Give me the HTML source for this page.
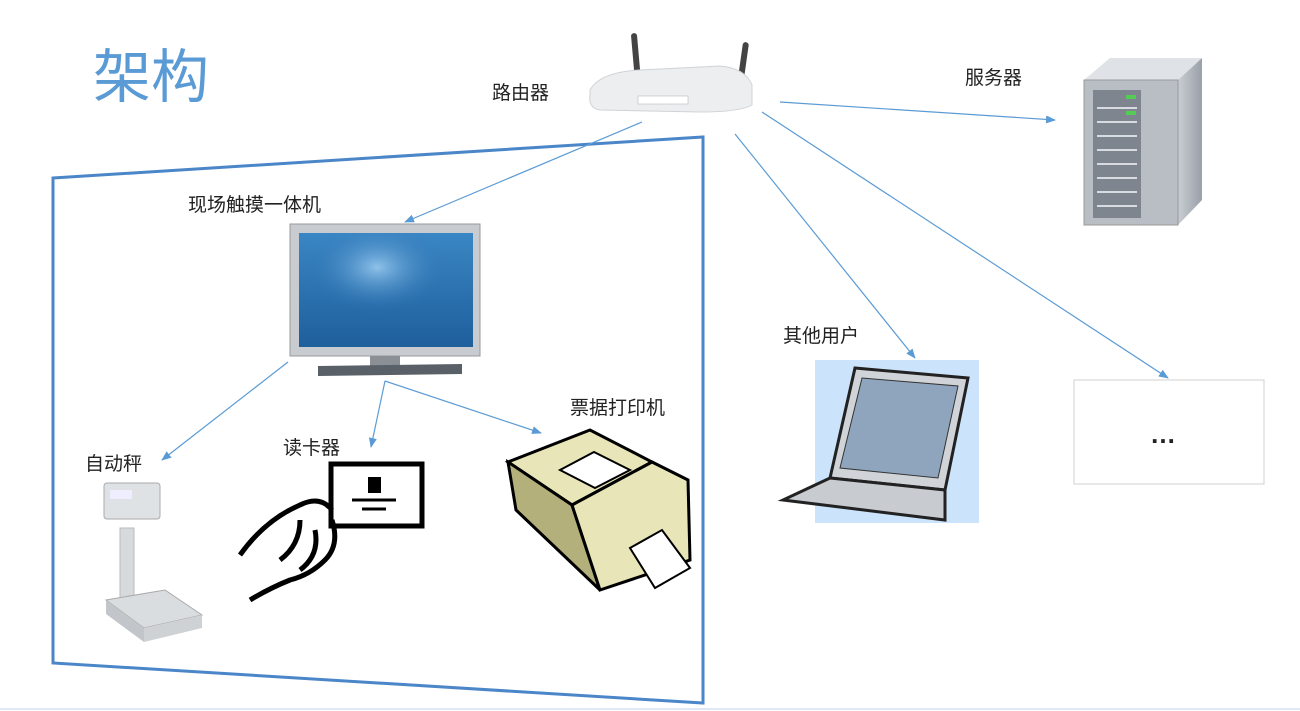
<!DOCTYPE html>
<html><head><meta charset="utf-8"><style>
html,body{margin:0;padding:0;background:#fff;}
svg{display:block;font-family:"Liberation Sans","Noto Sans CJK SC",sans-serif;}
</style></head><body>
<svg width="1300" height="711" viewBox="0 0 1300 711" xmlns="http://www.w3.org/2000/svg">
<defs>
<marker id="a" markerWidth="10" markerHeight="8" refX="9" refY="4" orient="auto" markerUnits="userSpaceOnUse"><path d="M0,0 L10,4 L0,8 Z" fill="#5b9bd5"/></marker>
<linearGradient id="scr" x1="0" y1="0" x2="0" y2="1"><stop offset="0" stop-color="#3a86c4"/><stop offset="1" stop-color="#1e5f9c"/></linearGradient>
<radialGradient id="glow" cx="0.45" cy="0.3" r="0.4"><stop offset="0" stop-color="#8fc2ea"/><stop offset="1" stop-color="#2c74b5" stop-opacity="0"/></radialGradient>
<linearGradient id="srv" x1="0" y1="0" x2="1" y2="0"><stop offset="0" stop-color="#c9cdd3"/><stop offset="1" stop-color="#9aa0a8"/></linearGradient>
</defs>
<text x="93" y="97" font-size="58" fill="#5b9bd5">架构</text>
<!-- frame -->
<polygon points="53,178 703,137 703,703 53,663" fill="none" stroke="#4a86c8" stroke-width="3"/>
<line x1="0" y1="709" x2="1300" y2="709" stroke="#dfe9f5" stroke-width="2"/>
<!-- router -->
<rect x="633" y="33" width="6" height="50" rx="3" fill="#444" transform="rotate(-5 636 58)"/>
<rect x="740" y="42" width="6" height="45" rx="3" fill="#444" transform="rotate(8 743 64)"/>
<path d="M590,90 Q600,72 640,70 L720,66 Q745,68 752,85 L752,105 Q740,112 700,112 L600,110 Q588,108 590,95 Z" fill="#eceeef" stroke="#d0d3d6"/>
<rect x="638" y="96" width="50" height="8" fill="#fff" stroke="#bbb" stroke-width="0.6"/>
<text x="492" y="99" font-size="19" fill="#222">路由器</text>
<!-- server -->
<polygon points="1084,80 1110,58 1202,58 1178,80" fill="#dfe2e6"/>
<polygon points="1178,80 1202,58 1202,200 1178,225" fill="url(#srv)"/>
<rect x="1084" y="80" width="94" height="145" fill="#b9bec5" stroke="#999"/>
<rect x="1093" y="90" width="48" height="128" fill="#7e858e"/>
<g stroke="#d8dce0" stroke-width="2">
<line x1="1097" y1="108" x2="1137" y2="108"/><line x1="1097" y1="122" x2="1137" y2="122"/><line x1="1097" y1="136" x2="1137" y2="136"/><line x1="1097" y1="150" x2="1137" y2="150"/><line x1="1097" y1="164" x2="1137" y2="164"/><line x1="1097" y1="178" x2="1137" y2="178"/><line x1="1097" y1="192" x2="1137" y2="192"/><line x1="1097" y1="206" x2="1137" y2="206"/></g>
<rect x="1126" y="95" width="10" height="4" fill="#5c5"/><rect x="1126" y="111" width="10" height="4" fill="#5c5"/>
<text x="965" y="84" font-size="19" fill="#222">服务器</text>
<!-- connectors from router -->
<g stroke="#5b9bd5" stroke-width="1.2" fill="none" marker-end="url(#a)">
<line x1="642" y1="122" x2="405" y2="222"/>
<line x1="780" y1="102" x2="1055" y2="120"/>
<line x1="735" y1="134" x2="915" y2="358"/>
<line x1="762" y1="112" x2="1168" y2="378"/>
<line x1="288" y1="362" x2="162" y2="460"/>
<line x1="385" y1="381" x2="371" y2="447"/>
<line x1="385" y1="381" x2="541" y2="433"/>
</g>
<!-- monitor -->
<text x="188" y="211" font-size="19" fill="#222">现场触摸一体机</text>
<rect x="290" y="224" width="190" height="132" fill="#c8ccd0" stroke="#999"/>
<rect x="299" y="233" width="174" height="114" fill="url(#scr)"/>
<rect x="299" y="233" width="174" height="114" fill="url(#glow)"/>
<rect x="370" y="356" width="30" height="10" fill="#8a9096"/>
<polygon points="318,366 462,364 462,374 318,376" fill="#5a6068"/>
<!-- scale -->
<text x="85" y="470" font-size="19" fill="#222">自动秤</text>
<rect x="104" y="483" width="56" height="36" rx="3" fill="#dfe2e5" stroke="#aaa"/>
<rect x="110" y="490" width="22" height="9" fill="#eef"/>
<rect x="120" y="528" width="14" height="70" fill="#d7dadd" stroke="#bbb"/>
<polygon points="106,600 165,590 202,615 144,628" fill="#dadde0" stroke="#aaa"/>
<polygon points="106,600 144,628 144,642 106,614" fill="#c2c6ca"/>
<polygon points="144,628 202,615 202,628 144,642" fill="#cfd2d5"/>
<!-- card reader -->
<text x="283" y="454" font-size="19" fill="#222">读卡器</text>
<rect x="331" y="464" width="91" height="62" fill="#fff" stroke="#000" stroke-width="5"/>
<rect x="368" y="477" width="13" height="16" fill="#000"/>
<line x1="352" y1="500" x2="396" y2="500" stroke="#000" stroke-width="3"/>
<line x1="362" y1="509" x2="386" y2="509" stroke="#000" stroke-width="3"/>
<path d="M240,555 Q265,520 300,505 Q320,495 332,510 M332,520 Q340,545 325,560 Q310,575 290,580 Q270,588 250,600 M300,520 Q300,545 280,560 M315,530 Q320,555 300,570" fill="none" stroke="#000" stroke-width="5"/>
<!-- printer -->
<text x="570" y="414" font-size="19" fill="#222">票据打印机</text>
<polygon points="508,462 590,430 652,462 572,505" fill="#e8e5b8" stroke="#000" stroke-width="3"/>
<polygon points="560,470 594,452 630,470 595,488" fill="#fff" stroke="#000" stroke-width="2"/>
<polygon points="508,462 572,505 600,590 516,510" fill="#b3b07b" stroke="#000" stroke-width="3"/>
<polygon points="572,505 652,462 688,480 690,560 600,590" fill="#e8e5b8" stroke="#000" stroke-width="3"/>
<polygon points="630,548 662,530 690,568 655,588" fill="#fff" stroke="#000" stroke-width="2"/>
<!-- laptop -->
<text x="783" y="342" font-size="19" fill="#222">其他用户</text>
<rect x="815" y="360" width="164" height="163" fill="#cce4fb"/>
<polygon points="855,368 968,378 945,490 830,478" fill="#d0d4d8" stroke="#222" stroke-width="3"/>
<polygon points="862,378 958,386 938,478 840,468" fill="#8fa5bd" stroke="#333"/>
<polygon points="830,478 945,490 945,520 783,500" fill="#c8ccd0" stroke="#222" stroke-width="3"/>
<!-- dots box -->
<rect x="1074" y="380" width="190" height="104" fill="#fff" stroke="#d0d0d0"/>
<text x="1150" y="443" font-size="26" font-weight="bold" fill="#222">…</text>
</svg>
</body></html>
